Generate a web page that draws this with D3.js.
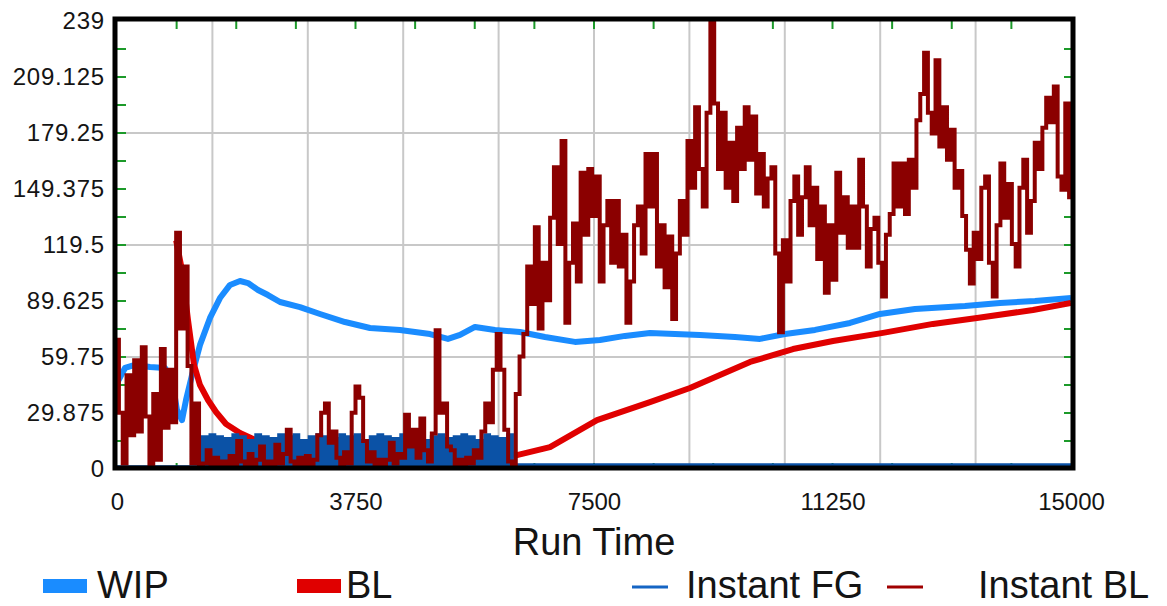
<!DOCTYPE html>
<html>
<head>
<meta charset="utf-8">
<script src="https://cdn.jsdelivr.net/npm/d3@7"></script>
<style>
  html, body { margin: 0; padding: 0; background: #ffffff; }
  svg text { font-family: "Liberation Sans", Arial, sans-serif; fill: #141414; }
</style>
</head>
<body>
<svg id="chart" width="1167" height="606"></svg>
<script>
// Axis ranges and tick labels
const xMax = 15000;
const yMax = 239;
const xTickLabels = [0, 3750, 7500, 11250, 15000];
const yTickLabels = [0, 29.875, 59.75, 89.625, 119.5, 149.375, 179.25, 209.125, 239];
const xGridLines = [1500, 3000, 4500, 6000, 7500, 9000, 10500, 12000, 13500];
const yGridLines = [59.75, 119.5, 179.25];
const xMinorStep = 937.5;
const yMinorStep = 14.9375;
const xTitle = "Run Time";
const seriesNames = ["WIP", "BL", "Instant FG", "Instant BL"];

// WIP (smoothed work in process)
const wipTime  = [0, 126, 283, 519, 755, 865, 943, 1022, 1085, 1179, 1305, 1462, 1619, 1777, 1934, 2060, 2217, 2374, 2563, 2877, 3192, 3585, 3978, 4450, 4921, 5204, 5393, 5629, 5943, 6336, 6729, 7201, 7594, 7987, 8380, 9166, 9717, 10110, 10503, 10975, 11525, 11997, 12547, 13333, 13884, 14434, 15000];
const wipValue = [45.9, 53.9, 55.5, 54.4, 53.9, 47.5, 31.5, 26.1, 36.8, 50.1, 66.2, 80.6, 91.2, 98.2, 100.3, 99.2, 95.5, 92.8, 89.1, 86.4, 82.7, 78.4, 75.2, 74.2, 72.0, 69.4, 71.5, 75.8, 74.2, 73.1, 70.4, 67.8, 68.8, 71.0, 72.6, 71.5, 70.4, 69.4, 72.0, 74.2, 77.9, 82.7, 85.4, 87.0, 88.6, 89.6, 91.2];

// BL (smoothed backlog)
const blTime  = [930, 1022, 1116, 1211, 1305, 1431, 1557, 1714, 1934, 2170, 2563, 3192, 4450, 6022, 6305, 6808, 7547, 8380, 9009, 9953, 10629, 11258, 12044, 12830, 13522, 14402, 15000];
const blValue = [122, 106, 79.5, 55.5, 44.8, 36.8, 30.4, 24.0, 19.2, 15.5, 12.8, 10.7, 9.6, 8.5, 7.5, 11.7, 26.1, 35.7, 43.2, 57.1, 64.0, 68.3, 72.6, 77.4, 80.6, 84.8, 88.6];

// Instantaneous series, one sample every sampleStep time units
const sampleStep = 60;
const instantFG = [
  1, 1, 1, 1, 0, 1, 1, 1, 1, 0, 1, 1, 1, 1, 1, 0, 1, 1, 1, 1, 1, 1,
  1, 17, 0, 18, 1, 17, 0, 16, 2, 18, 0, 17, 1, 15, 0, 18, 1, 17, 0, 16,
  2, 18, 0, 17, 1, 18, 0, 15, 1, 17, 0, 18, 2, 17, 0, 16, 1, 18, 0, 17,
  1, 18, 0, 15, 2, 17, 0, 18, 1, 17, 0, 16, 1, 18, 0, 17, 2, 18, 0, 15,
  1, 17, 0, 18, 1, 16, 0, 17, 2, 18, 0, 17, 1, 15, 0, 18, 1, 17, 0, 16,
  2, 18, 1,
  2, 2, 2, 2, 2, 2, 2, 2, 2, 2, 2, 2, 2, 2, 2, 2, 2, 2, 2, 2,
  2, 2, 2, 2, 2, 2, 2, 2, 2, 2, 2, 2, 2, 2, 2, 2, 2, 2, 2, 2,
  2, 2, 2, 2, 2, 2, 2, 2, 2, 2, 2, 2, 2, 2, 2, 2, 2, 2, 2, 2,
  2, 2, 2, 2, 2, 2, 2, 2, 2, 2, 2, 2, 2, 2, 2, 2, 2, 2, 2, 2,
  2, 2, 2, 2, 2, 2, 2, 2, 2, 2, 2, 2, 2, 2, 2, 2, 2, 2, 2, 2,
  2, 2, 2, 2, 2, 2, 2, 2, 2, 2, 2, 2, 2, 2, 2, 2, 2, 2, 2, 2,
  2, 2, 2, 2, 2, 2, 2, 2, 2, 2, 2, 2, 2, 2, 2, 2, 2, 2, 2, 2,
  2, 2, 2, 2, 2, 2
];
const instantBL = [
  69, 30, 3, 50, 18, 58, 20, 65, 28, 2, 40, 5, 64, 22, 53, 25, 126, 75, 108, 55,
  3, 35, 2, 3, 10, 2, 6, 1, 4, 2, 7, 1, 15, 4, 2, 8, 1, 5, 12, 2,
  4, 1, 13, 3, 8, 21, 4, 2, 6, 1, 7, 2, 5, 18, 30, 35, 14, 20, 6, 2,
  9, 3, 30, 44, 38, 15, 4, 9, 2, 5, 1, 5, 14, 3, 8, 6, 29, 12, 21, 6,
  27, 10, 4, 19, 74, 30, 35, 12, 10, 2, 5, 1, 6, 3, 10, 6, 20, 35, 25, 53,
  72, 53, 21, 4, 1, 40, 60, 72, 108, 88, 129, 75, 110, 90, 134, 161, 120, 175, 78, 110,
  131, 100, 158, 125, 160, 135, 156, 100, 130, 143, 110, 143, 108, 125, 78, 100, 130, 140, 115, 168,
  140, 168, 108, 130, 97, 124, 80, 115, 143, 125, 175, 150, 193, 160, 140, 190, 239, 195, 160, 190,
  150, 174, 143, 182, 160, 193, 165, 188, 147, 168, 140, 155, 161, 115, 73, 122, 100, 143, 156, 125,
  145, 161, 130, 150, 112, 140, 94, 130, 101, 158, 126, 145, 118, 140, 118, 165, 140, 108, 128, 134,
  110, 92, 125, 136, 163, 140, 163, 136, 165, 150, 186, 200, 222, 190, 179, 218, 172, 193, 165, 181,
  150, 159, 135, 117, 99, 126, 112, 150, 156, 110, 92, 130, 163, 134, 152, 120, 108, 150, 165, 126,
  143, 174, 160, 182, 198, 185, 204, 156, 149, 195, 145
];

const colors = {
  wip: "#1a8cff",
  bl: "#e00000",
  instantFG: "#0b52a6",
  instantBL: "#8b0000",
  grid: "#c8c8c8",
  minorTick: "#1c9a2a",
  frame: "#000000"
};

const svg = d3.select("#chart");
const plot = { left: 117, right: 1071, top: 21, bottom: 469 };

const x = d3.scaleLinear().domain([0, xMax]).range([plot.left, plot.right]);
const y = d3.scaleLinear().domain([0, yMax]).range([plot.bottom, plot.top]);

svg.append("defs").append("clipPath").attr("id", "plot-clip")
  .append("rect")
  .attr("x", plot.left).attr("y", plot.top)
  .attr("width", plot.right - plot.left).attr("height", plot.bottom - plot.top);

// Grid
const grid = svg.append("g");
grid.selectAll("line.vx").data(xGridLines).join("line")
  .attr("x1", d => x(d)).attr("x2", d => x(d))
  .attr("y1", plot.top).attr("y2", plot.bottom)
  .attr("stroke", colors.grid).attr("stroke-width", 2);
grid.selectAll("line.hy").data(yGridLines).join("line")
  .attr("y1", d => y(d)).attr("y2", d => y(d))
  .attr("x1", plot.left).attr("x2", plot.right)
  .attr("stroke", colors.grid).attr("stroke-width", 2);

// Minor ticks along all four sides, inside the frame
const xMinor = d3.range(xMinorStep, xMax, xMinorStep);
const yMinor = d3.range(yMinorStep, yMax - 1e-6, yMinorStep);
const ticks = svg.append("g").attr("stroke", colors.minorTick).attr("stroke-width", 2);
ticks.selectAll("line.t").data(xMinor).join("line")
  .attr("x1", d => x(d)).attr("x2", d => x(d))
  .attr("y1", plot.top).attr("y2", plot.top + 8);
ticks.selectAll("line.b").data(xMinor).join("line")
  .attr("x1", d => x(d)).attr("x2", d => x(d))
  .attr("y1", plot.bottom).attr("y2", plot.bottom - 6);
ticks.selectAll("line.l").data(yMinor).join("line")
  .attr("y1", d => y(d)).attr("y2", d => y(d))
  .attr("x1", plot.left).attr("x2", plot.left + 9);
ticks.selectAll("line.r").data(yMinor).join("line")
  .attr("y1", d => y(d)).attr("y2", d => y(d))
  .attr("x1", plot.right).attr("x2", plot.right - 7);

// Series
const lines = svg.append("g").attr("clip-path", "url(#plot-clip)").attr("fill", "none");
const pairLine = d3.line().x(d => x(d[0])).y(d => y(d[1]));
// The instantaneous readings are held between samples, so they are drawn as steps
const sampledLine = d3.line().curve(d3.curveStep)
  .x((d, i) => x(i * sampleStep)).y(d => y(d));

lines.append("path")
  .datum(d3.zip(wipTime, wipValue))
  .attr("d", pairLine)
  .attr("stroke", colors.wip).attr("stroke-width", 6).attr("stroke-linejoin", "round");
lines.append("path")
  .datum(d3.zip(blTime, blValue))
  .attr("d", pairLine)
  .attr("stroke", colors.bl).attr("stroke-width", 6).attr("stroke-linejoin", "round");
lines.append("path")
  .datum(instantFG)
  .attr("d", sampledLine)
  .attr("stroke", colors.instantFG).attr("stroke-width", 4);
lines.append("path")
  .datum(instantBL)
  .attr("d", sampledLine)
  .attr("stroke", colors.instantBL).attr("stroke-width", 4);

// Frame
svg.append("rect")
  .attr("x", plot.left - 2).attr("y", plot.top - 2)
  .attr("width", plot.right - plot.left + 4).attr("height", plot.bottom - plot.top + 1)
  .attr("fill", "none").attr("stroke", colors.frame).attr("stroke-width", 5);

// Axes (labels only)
const yAxis = d3.axisLeft(y).tickValues(yTickLabels).tickSize(0).tickPadding(12)
  .tickFormat(d => String(d));
const yG = svg.append("g").attr("transform", `translate(${plot.left},0)`).call(yAxis);
yG.select(".domain").remove();
yG.selectAll("text").attr("font-size", 24).attr("fill", "#141414")
  .attr("letter-spacing", 0.8)
  .style("font-family", "'Liberation Sans', Arial, sans-serif");

const xAxis = d3.axisBottom(x).tickValues(xTickLabels).tickSize(0).tickPadding(24)
  .tickFormat(d => String(d));
const xG = svg.append("g").attr("transform", `translate(0,${plot.bottom})`).call(xAxis);
xG.select(".domain").remove();
xG.selectAll("text").attr("font-size", 24).attr("fill", "#141414")
  .style("font-family", "'Liberation Sans', Arial, sans-serif");

svg.append("text")
  .attr("x", x(xMax / 2)).attr("y", 555)
  .attr("text-anchor", "middle").attr("font-size", 38)
  .text(xTitle);

// Legend
const legendItems = [
  { name: seriesNames[0], color: colors.wip, kind: "box", x: 43, tx: 97 },
  { name: seriesNames[1], color: colors.bl, kind: "box", x: 297, tx: 346 },
  { name: seriesNames[2], color: "#1565c4", kind: "line", x: 632, tx: 686 },
  { name: seriesNames[3], color: "#a00000", kind: "line", x: 887, tx: 978 }
];
const legend = svg.append("g");
legendItems.forEach(item => {
  if (item.kind === "box") {
    legend.append("rect").attr("x", item.x).attr("y", 579)
      .attr("width", 44).attr("height", 14).attr("fill", item.color);
  } else {
    legend.append("line").attr("x1", item.x).attr("x2", item.x + 36)
      .attr("y1", 587).attr("y2", 587)
      .attr("stroke", item.color).attr("stroke-width", 3);
  }
  legend.append("text").attr("x", item.tx).attr("y", 598)
    .attr("font-size", 38).text(item.name);
});
</script>
</body>
</html>
